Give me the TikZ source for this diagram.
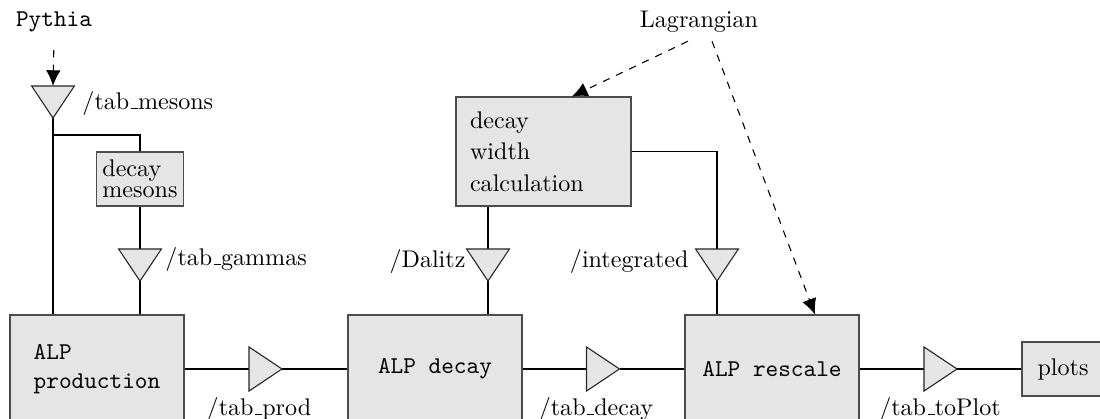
\documentclass[tikz,border=0pt]{standalone}
\usetikzlibrary{arrows.meta}
\makeatletter
\newcommand{\uscore}{\leavevmode\kern.06em\vbox{\hrule\@width.3em}}
\makeatother
\begin{document}
\begin{tikzpicture}[x=0.415pt,y=-0.415pt,
  box/.style={draw=black!70,fill=black!10,line width=0.5pt,inner sep=3.33pt},
  ttbox/.style={box,font=\ttfamily,align=left,minimum width=72.2pt,minimum height=44.8pt},
  tribox/.style={inner sep=0pt,outer sep=0pt},
  tridown/.style={tribox,minimum width=17.8pt,minimum height=13.3pt},
  triright/.style={tribox,minimum width=13.7pt,minimum height=18.3pt},
  tri/.style={draw=black!85,fill=black!10,line width=0.45pt,line join=miter},
  conn/.style={draw=black,line width=0.45pt},
  dash arrow/.style={conn,dashed,-{Latex[length=6.5pt,width=6pt]}},
  lbl/.style={inner sep=0pt}
]
\useasboundingbox (0,0) rectangle (1100,419);
\clip (0,0) rectangle (1100,419);

% source texts
\node[font=\ttfamily] (py) at (54,22) {Pythia};
\node (lag) at (699,22) {Lagrangian};

% boxes
\node[box,align=left,inner xsep=2pt,minimum width=36.1pt,minimum height=22.4pt] (dm) at (140,179) {decay\\[-3.5pt]mesons};
\node[box,align=left,text width=61pt,inner xsep=5.8pt,minimum height=45.2pt] (dwc) at (543.5,151.5) {decay\\[1pt]width\\[1pt]calculation};
\node[ttbox] (prod) at (97,369) {ALP\\production};
\node[ttbox] (decay) at (435,369) {ALP decay};
\node[ttbox] (resc) at (772,369) {ALP rescale};
\node[box,minimum width=34pt,minimum height=22.4pt] (plots) at (1063,369) {plots};

% triangle placeholders
\node[tridown] (t1) at (53,102) {};
\node[tridown] (t2) at (140,265) {};
\node[tridown] (t3) at (488,265) {};
\node[tridown] (t4) at (717,265) {};
\node[triright] (r1) at (265.5,369) {};
\node[triright] (r2) at (603,369) {};
\node[triright] (r3) at (940.5,369) {};

\coordinate (j1) at (53,135);

% connectors
\draw[conn] (t1.south) -- (t1.south |- prod.north);
\draw[conn] (j1) -| (dm.north);
\draw[conn] (dm.south) -- (t2.north);
\draw[conn] (t2.south) -- (t2.south |- prod.north);
\draw[conn] (t3.north |- dwc.south) -- (t3.north);
\draw[conn] (t3.south) -- (t3.south |- decay.north);
\draw[conn] (dwc.east) -| (t4.north);
\draw[conn] (t4.south) -- (t4.south |- resc.north);
\draw[conn] (prod.east) -- (r1.west);
\draw[conn] (r1.east) -- (decay.west);
\draw[conn] (decay.east) -- (r2.west);
\draw[conn] (r2.east) -- (resc.west);
\draw[conn] (resc.east) -- (r3.west);
\draw[conn] (r3.east) -- (plots.west);

% dashed arrows
\draw[dash arrow,shorten <=4pt] (py.south) -- (t1.north);
\draw[dash arrow] ([xshift=-4.6pt]lag.south) -- ([xshift=11.8pt]dwc.north);
\draw[dash arrow] ([xshift=5.4pt]lag.south) -- ([xshift=17.8pt]resc.north);

% triangles
\draw[tri] (t1.north west) -- (t1.north east) -- (t1.south) -- cycle;
\draw[tri] (t2.north west) -- (t2.north east) -- (t2.south) -- cycle;
\draw[tri] (t3.north west) -- (t3.north east) -- (t3.south) -- cycle;
\draw[tri] (t4.north west) -- (t4.north east) -- (t4.south) -- cycle;
\draw[tri] (r1.north west) -- (r1.east) -- (r1.south west) -- cycle;
\draw[tri] (r2.north west) -- (r2.east) -- (r2.south west) -- cycle;
\draw[tri] (r3.north west) -- (r3.east) -- (r3.south west) -- cycle;

% labels
\node[lbl,anchor=west] (lmes) at (82,103) {/tab\uscore mesons};
\node[lbl,anchor=west] (lgam) at (165,259) {/tab\uscore gammas};
\node[lbl,anchor=east] (ldal) at (466,261) {/Dalitz};
\node[lbl,anchor=east] (lint) at (689,261) {/integrated};
\node[lbl] (lprod) at (259,409) {/tab\uscore prod};
\node[lbl] (ldec) at (596,409) {/tab\uscore decay};
\node[lbl] (lplot) at (940,409) {/tab\uscore toPlot};
\end{tikzpicture}
\end{document}
